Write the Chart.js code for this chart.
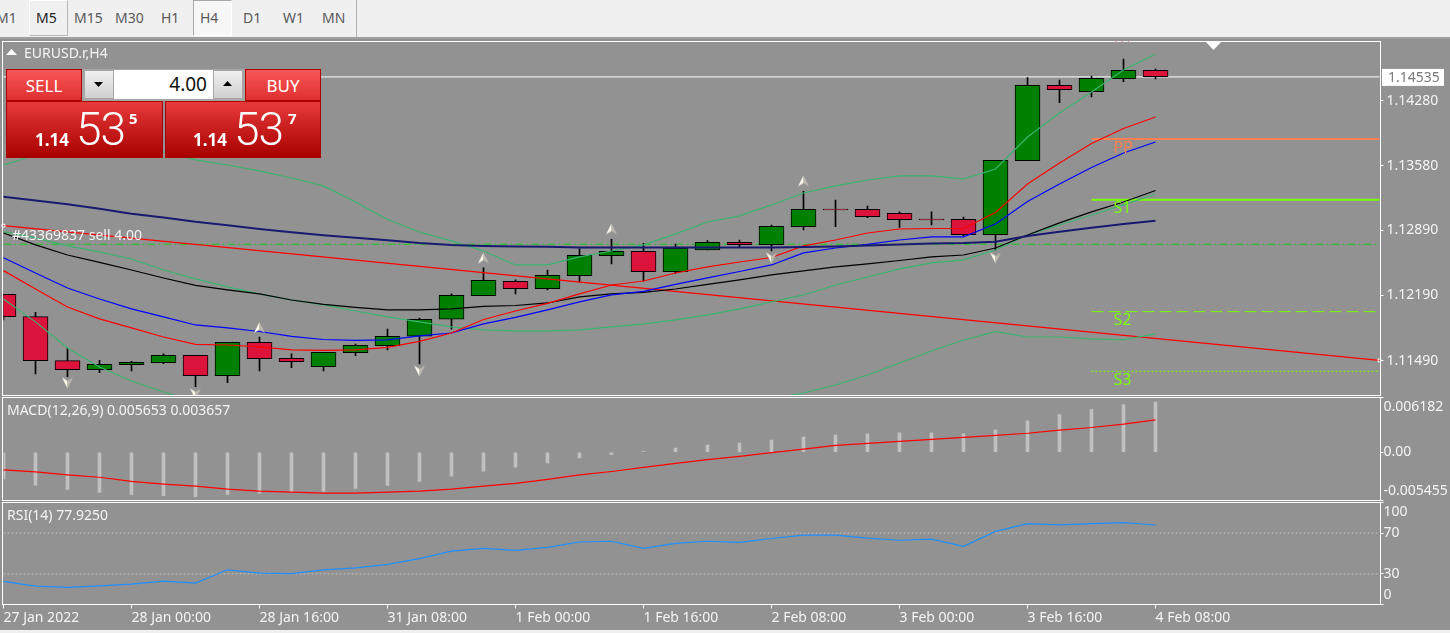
<!DOCTYPE html>
<html>
<head>
<meta charset="utf-8">
<title>EURUSD.r,H4</title>
<script src="https://cdn.jsdelivr.net/npm/chart.js@4"></script>
<style>
  html, body { margin: 0; padding: 0; background: #f0f0f0; overflow: hidden; }
  body { width: 1450px; height: 633px; position: relative; font-family: "Noto Sans", sans-serif; }
  canvas { position: absolute; left: 0; }
  .abs { position: absolute; white-space: nowrap; }
  #stage { position: absolute; left: 0; top: 39px; width: 1450px; height: 591px; background: #929292; }
  #sep { position: absolute; left: 0; top: 37px; width: 1450px; height: 2px; background: #a0a0a0; }
  .tf { position: absolute; top: 9px; font-size: 14px; color: #5a5a5a; line-height: 18px; }
  .tfbox { position: absolute; top: 0; width: 37px; height: 34px; border: 1px solid #c8c8c8; border-top-color: #fff; border-left-color: #fff; }
  .pane { color: #f4f4f4; font-size: 14px; line-height: 16px; }
  .tab { background: linear-gradient(#f85656, #e03030); border: 1px solid #a80000; color: #fff; text-align: center; font-size: 17px; box-sizing: border-box; }
  .px { background: linear-gradient(#e83a3a, #a80000); border: 1px solid #a80000; box-sizing: border-box; height: 57px; top: 101px; }
  .spin { background: linear-gradient(#f0f0f0, #d0d0d0); height: 27px; top: 71px; width: 28px; }
  .big { font-size: 46px; font-weight: 300; color: #fff; font-family: Roboto, sans-serif; letter-spacing: -1px; line-height: 46px; }
  .sm { font-size: 15px; font-weight: 700; color: #fff; line-height: 16px; }
</style>
</head>
<body>
<div class="tfbox" style="left:29px;border-color:#fff #b8b8b8 #b8b8b8 #fff"></div>
<div class="tfbox" style="left:193px;background:#f7f7f7;border-color:#aaa #fff #fff #aaa"></div>
<div class="tf" style="left:-4px">M1</div>
<div class="tf" style="left:36px;color:#222">M5</div>
<div class="tf" style="left:74px">M15</div>
<div class="tf" style="left:115px">M30</div>
<div class="tf" style="left:161px">H1</div>
<div class="tf" style="left:200px">H4</div>
<div class="tf" style="left:243px">D1</div>
<div class="tf" style="left:283px">W1</div>
<div class="tf" style="left:322px">MN</div>
<div class="abs" style="left:356px;top:0;width:1px;height:37px;background:#b4b4b4"></div>
<div id="sep"></div>
<div id="stage"></div>

<canvas id="mainChart" width="1450" height="360" style="top:39px"></canvas>
<canvas id="macdChart" width="1450" height="106" style="top:395px"></canvas>
<canvas id="rsiChart" width="1450" height="130" style="top:500px"></canvas>

<div class="abs" style="left:6px;top:49px;width:11px;height:6px;background:#fff;clip-path:polygon(50% 0,100% 100%,0 100%)"></div>
<div class="abs pane" style="left:24px;top:45px">EURUSD.r,H4</div>
<div class="abs pane" style="left:7px;top:402px">MACD(12,26,9) 0.005653 0.003657</div>
<div class="abs pane" style="left:7px;top:507px">RSI(14) 77.9250</div>
<div class="abs" style="left:1205px;top:41px;width:17px;height:9px;background:#fff;clip-path:polygon(0 0,100% 0,50% 100%)"></div>

<div class="abs tab" style="left:6px;top:69px;width:76px;height:32px;line-height:31px">SELL</div>
<div class="abs" style="left:10px;top:100px;width:68px;height:1px;background:#a80000"></div>
<div class="abs" style="left:82px;top:69px;width:163px;height:32px;background:#a6a6a6"></div>
<div class="abs spin" style="left:85px"></div>
<div class="abs" style="left:94px;top:82px;width:9px;height:5px;background:#000;clip-path:polygon(0 0,100% 0,50% 100%)"></div>
<div class="abs" style="left:114px;top:70px;width:99px;height:29px;background:#fff;color:#111;font-size:19px;line-height:29px;text-align:right;box-sizing:border-box;padding-right:6px">4.00</div>
<div class="abs spin" style="left:214px"></div>
<div class="abs" style="left:223px;top:81px;width:9px;height:5px;background:#000;clip-path:polygon(50% 0,100% 100%,0 100%)"></div>
<div class="abs tab" style="left:245px;top:69px;width:76px;height:32px;line-height:31px">BUY</div>
<div class="abs" style="left:249px;top:100px;width:68px;height:1px;background:#a80000"></div>

<div class="abs px" style="left:6px;width:157px"></div>
<div class="abs sm" style="left:35px;top:131px;font-size:17px;line-height:18px">1.14</div>
<div class="abs big" style="left:76px;top:106px">53</div>
<div class="abs sm" style="left:129px;top:110px">5</div>
<div class="abs px" style="left:165px;width:156px"></div>
<div class="abs sm" style="left:193px;top:131px;font-size:17px;line-height:18px">1.14</div>
<div class="abs big" style="left:234px;top:106px">53</div>
<div class="abs sm" style="left:288px;top:110px">7</div>

<script>
const barTimes = ['27 Jan 08:00','27 Jan 12:00','27 Jan 16:00','27 Jan 20:00','28 Jan 00:00','28 Jan 04:00','28 Jan 08:00','28 Jan 12:00','28 Jan 16:00','28 Jan 20:00',
    '31 Jan 00:00','31 Jan 04:00','31 Jan 08:00','31 Jan 12:00','31 Jan 16:00','31 Jan 20:00','1 Feb 00:00','1 Feb 04:00','1 Feb 08:00','1 Feb 12:00',
    '1 Feb 16:00','1 Feb 20:00','2 Feb 00:00','2 Feb 04:00','2 Feb 08:00','2 Feb 12:00','2 Feb 16:00','2 Feb 20:00','3 Feb 00:00','3 Feb 04:00',
    '3 Feb 08:00','3 Feb 12:00','3 Feb 16:00','3 Feb 20:00','4 Feb 00:00','4 Feb 04:00','4 Feb 08:00',
    '4 Feb 12:00','4 Feb 16:00','4 Feb 20:00','7 Feb 00:00','7 Feb 04:00','7 Feb 08:00','7 Feb 12:00'];
const timeTickIndex = [0,4,8,12,16,20,24,28,32,36];
const timeTickText = ['27 Jan 2022','28 Jan 00:00','28 Jan 16:00','31 Jan 08:00','1 Feb 00:00','1 Feb 16:00','2 Feb 08:00','3 Feb 00:00','3 Feb 16:00','4 Feb 08:00'];

const opens = [1.12202,1.11962,1.11490,1.11393,1.11447,1.11468,1.11548,1.11329,1.11687,1.11516,
    1.11426,1.11576,1.11651,1.11752,1.11934,1.12187,1.12342,1.12263,1.12402,1.12617,
    1.12664,1.12445,1.12678,1.12760,1.12735,1.12928,1.13117,1.13115,1.13072,1.13010,
    1.13007,1.12842,1.13636,1.14445,1.14377,1.14516,1.14606];
const closes = [1.11962,1.11490,1.11393,1.11451,1.11473,1.11548,1.11329,1.11687,1.11511,1.11479,
    1.11580,1.11655,1.11752,1.11934,1.12192,1.12353,1.12263,1.12406,1.12621,1.12664,
    1.12445,1.12699,1.12760,1.12735,1.12932,1.13115,1.13107,1.13035,1.13003,1.12999,
    1.12842,1.13640,1.14445,1.14398,1.14520,1.14606,1.14537];
const highs = [1.12202,1.12009,1.11623,1.11494,1.11484,1.11562,1.11548,1.11687,1.11744,1.11562,
    1.11580,1.11669,1.11830,1.11948,1.12206,1.12485,1.12356,1.12463,1.12689,1.12793,
    1.12750,1.12742,1.12778,1.12785,1.12946,1.13308,1.13214,1.13150,1.13086,1.13086,
    1.13032,1.13640,1.14527,1.14502,1.14545,1.14727,1.14620];
const lows = [1.11927,1.11347,1.11318,1.11361,1.11379,1.11458,1.11211,1.11254,1.11379,1.11415,
    1.11379,1.11544,1.11605,1.11455,1.11827,1.12187,1.12206,1.12249,1.12331,1.12528,
    1.12345,1.12428,1.12678,1.12707,1.12667,1.12892,1.12928,1.13025,1.12921,1.12946,
    1.12828,1.12678,1.13636,1.14258,1.14320,1.14484,1.14513];

const maNavy = [1.13249,1.13209,1.13168,1.13120,1.13067,1.13027,1.12981,1.12943,1.12903,1.12869,
    1.12837,1.12809,1.12782,1.12753,1.12732,1.12721,1.12715,1.12713,1.12705,1.12705,
    1.12705,1.12705,1.12705,1.12705,1.12705,1.12710,1.12715,1.12726,1.12737,1.12748,
    1.12753,1.12767,1.12828,1.12874,1.12917,1.12957,1.12992];
const bandUpper = [1.13590,1.13697,1.13751,1.13772,1.13772,1.13730,1.13644,1.13590,1.13526,1.13450,
    1.13365,1.13193,1.13005,1.12871,1.12775,1.12667,1.12517,1.12517,1.12603,1.12667,
    1.12732,1.12850,1.12978,1.13043,1.13161,1.13289,1.13365,1.13429,1.13472,1.13472,
    1.13440,1.13547,1.13890,1.14148,1.14373,1.14609,1.14781];
const bandMiddle = [1.12874,1.12807,1.12721,1.12657,1.12581,1.12463,1.12367,1.12281,1.12206,1.12141,
    1.12088,1.12023,1.11959,1.11906,1.11852,1.11820,1.11809,1.11809,1.11820,1.11852,
    1.11884,1.11927,1.11981,1.12045,1.12120,1.12195,1.12302,1.12388,1.12474,1.12539,
    1.12571,1.12678,1.12839,1.12946,1.13053,1.13161,1.13279];
const bandLower = [1.12152,1.11906,1.11626,1.11422,1.11272,1.11154,1.11047,1.10961,1.10907,1.10875,
    1.10843,1.10821,1.10800,1.10767,1.10746,1.10735,1.10725,1.10725,1.10746,1.10800,
    1.10832,1.10875,1.10939,1.11004,1.11079,1.11143,1.11229,1.11336,1.11465,1.11594,
    1.11712,1.11801,1.11744,1.11744,1.11723,1.11712,1.11777];
const maBlack = [1.12860,1.12732,1.12624,1.12544,1.12463,1.12377,1.12297,1.12249,1.12206,1.12141,
    1.12093,1.12061,1.12034,1.12034,1.12045,1.12072,1.12082,1.12109,1.12174,1.12206,
    1.12222,1.12259,1.12308,1.12356,1.12410,1.12453,1.12496,1.12528,1.12565,1.12603,
    1.12624,1.12699,1.12839,1.12968,1.13086,1.13193,1.13316];
const maBlue = [1.12595,1.12431,1.12270,1.12152,1.12045,1.11959,1.11873,1.11841,1.11803,1.11750,
    1.11717,1.11707,1.11712,1.11755,1.11787,1.11884,1.11954,1.12034,1.12120,1.12195,
    1.12233,1.12308,1.12378,1.12447,1.12517,1.12646,1.12699,1.12737,1.12785,1.12818,
    1.12818,1.12957,1.13198,1.13386,1.13563,1.13719,1.13837];
const maRed = [1.12456,1.12259,1.12066,1.11938,1.11841,1.11744,1.11664,1.11658,1.11637,1.11605,
    1.11600,1.11605,1.11632,1.11696,1.11787,1.11932,1.12023,1.12104,1.12206,1.12302,
    1.12345,1.12431,1.12496,1.12549,1.12597,1.12721,1.12785,1.12860,1.12903,1.12908,
    1.12908,1.13080,1.13386,1.13611,1.13820,1.13981,1.14105];

const trendStart = 1.12939;
const trendEnd = 1.11492;
const bidPrice = 1.14535;
const orderPrice = 1.12739;
const pivotFromIndex = 34;
const pivotNames = ['R1','PP','S1','S2','S3'];
const pivotPrices = [1.15052,1.13869,1.13218,1.12016,1.11376];
const pivotColors = ['#c0504d','#ff7f50','#7cfc00','#7cfc00','#7cfc00'];

const fractalUpIndex = [8,15,19,25];
const fractalUpPrice = [1.11846,1.12592,1.12903,1.13418];
const fractalDownIndex = [2,6,13,24,31];
const fractalDownPrice = [1.11251,1.11133,1.11379,1.12592,1.12592];

const priceTicks = [1.1428,1.1358,1.1289,1.1219,1.1149];

const macdHist = [-0.00302,-0.00371,-0.00421,-0.00455,-0.00478,-0.00490,-0.00501,-0.00478,-0.00463,-0.00448,
    -0.00444,-0.00409,-0.00375,-0.00329,-0.00272,-0.00214,-0.00168,-0.00122,-0.00065,-0.00027,
    0.00008,0.00046,0.00080,0.00103,0.00138,0.00172,0.00195,0.00207,0.00218,0.00218,
    0.00207,0.00253,0.00356,0.00425,0.00482,0.00539,0.005653];
const macdSignal = [-0.00199,-0.00222,-0.00256,-0.00283,-0.00329,-0.00360,-0.00383,-0.00417,-0.00440,-0.00451,
    -0.00463,-0.00463,-0.00451,-0.00440,-0.00417,-0.00383,-0.00352,-0.00306,-0.00256,-0.00218,
    -0.00172,-0.00126,-0.00084,-0.00046,-0.00004,0.00034,0.00077,0.00099,0.00122,0.00145,
    0.00168,0.00191,0.00214,0.00249,0.00279,0.00318,0.003657];
const macdMax = 0.006182;
const macdMin = -0.005455;

const rsiValues = [22.7,18,16.7,18.3,20,23,21,34,30.7,30.3,
    34,36,39.3,45,52.3,55,53,56,61.3,62,
    55,60,62,61,64.7,68,68,65,63,64,
    57,71.7,79.3,78,79.3,80.3,77.925];
const rsiLevels = [70,30];
const rsiTicks = [100,70,30,0];

const fontName = '"Noto Sans", sans-serif';
const axisFont = { family: fontName, size: 14, lineHeight: 1.3 };

function flat(v) { return barTimes.map(() => v); }
function fromIndex(start, v) { return barTimes.map((_, i) => i >= start ? v : null); }
function pick(idx, vals) {
    return barTimes.map((_, i) => { const k = idx.indexOf(i); return k < 0 ? null : vals[k]; });
}
function line(data, color, width, order, extra) {
    return Object.assign({ type: 'line', data: data, borderColor: color, borderWidth: width, pointRadius: 0, tension: 0, order: order }, extra || {});
}

// fractal arrow, left half pale and right half shaded
function arrowImage(up) {
    const c = document.createElement('canvas');
    c.width = 13; c.height = 13;
    const g = c.getContext('2d');
    if (!up) { g.translate(0, 13); g.scale(1, -1); }
    g.fillStyle = '#fdf9ea';
    g.beginPath(); g.moveTo(6.5, 1); g.lineTo(6.5, 8.5); g.lineTo(1, 12); g.closePath(); g.fill();
    g.fillStyle = '#bdb9b0';
    g.beginPath(); g.moveTo(6.5, 1); g.lineTo(12, 12); g.lineTo(6.5, 8.5); g.closePath(); g.fill();
    return c;
}

// white frame round the plot area
const framePlugin = {
    id: 'frame',
    afterDraw(chart) {
        const a = chart.chartArea, c = chart.ctx;
        c.save();
        c.strokeStyle = '#fff';
        c.lineWidth = 1;
        c.strokeRect(a.left - 1, a.top, a.right - a.left + 2, a.bottom - a.top);
        c.restore();
    }
};

// pivot names, order label and the bid price box
const mainTextPlugin = {
    id: 'mainText',
    afterDraw(chart) {
        const a = chart.chartArea, c = chart.ctx, y = chart.scales.y, x = chart.scales.x;
        c.save();
        c.beginPath();
        c.rect(a.left, a.top, a.right - a.left, a.bottom - a.top);
        c.clip();
        c.font = '16px ' + fontName;
        c.textBaseline = 'top';
        pivotNames.forEach((n, i) => {
            c.fillStyle = pivotColors[i];
            c.fillText(n, x.getPixelForValue(36) - 42, y.getPixelForValue(pivotPrices[i]) + 1);
        });
        c.font = '14px ' + fontName;
        c.fillStyle = '#f4f4f4';
        c.textBaseline = 'middle';
        c.fillText('#43369837 sell 4.00', 12, y.getPixelForValue(orderPrice) - 8);
        c.restore();

        const by = y.getPixelForValue(bidPrice);
        c.fillStyle = '#fff';
        c.fillRect(1382, by - 8, 62, 17);
        c.fillStyle = '#7a7a7a';
        c.font = '14px ' + fontName;
        c.textBaseline = 'middle';
        c.fillText(bidPrice.toFixed(5), 1388, by + 1);
    }
};

function baseOptions(top, bottom) {
    return {
        responsive: false,
        animation: false,
        devicePixelRatio: 1,
        layout: { autoPadding: false, padding: { left: 3.5, top: top, right: 0, bottom: bottom } },
        plugins: { legend: { display: false }, tooltip: { enabled: false } },
        events: []
    };
}
function hiddenX() {
    return { type: 'category', display: false, offset: false, grid: { display: false } };
}
function noMargins(s) {
    s.paddingTop = 0; s.paddingBottom = 0; s.paddingLeft = 0; s.paddingRight = 0;
}
function rightAxis(opts) {
    return Object.assign({
        position: 'right',
        afterFit: s => { s.width = 70.5; noMargins(s); },
        grid: { drawOnChartArea: false, drawTicks: true, tickLength: 4, color: '#fff' },
        border: { display: false },
    }, opts);
}

new Chart(document.getElementById('mainChart'), {
    type: 'bar',
    plugins: [framePlugin, mainTextPlugin],
    data: {
        labels: barTimes,
        datasets: [
            line(pick(fractalUpIndex, fractalUpPrice), 'transparent', 0, 0, { showLine: false, pointRadius: 6, pointStyle: arrowImage(true) }),
            line(pick(fractalDownIndex, fractalDownPrice), 'transparent', 0, 0, { showLine: false, pointRadius: 6, pointStyle: arrowImage(false) }),
            line(maNavy, '#191970', 2, 1),
            line(maRed, '#ff0000', 1.2, 2),
            line(maBlue, '#0000ff', 1.2, 2),
            line(maBlack, '#000000', 1.2, 2),
            line(bandUpper, '#3cb371', 1.2, 2),
            line(bandMiddle, '#3cb371', 1.2, 2),
            line(bandLower, '#3cb371', 1.2, 2),
            line(fromIndex(pivotFromIndex, pivotPrices[1]), pivotColors[1], 2, 3),
            line(fromIndex(pivotFromIndex, pivotPrices[2]), pivotColors[2], 2, 3),
            line(fromIndex(pivotFromIndex, pivotPrices[3]), pivotColors[3], 1, 3, { borderDash: [12, 5] }),
            line(fromIndex(pivotFromIndex, pivotPrices[4]), pivotColors[4], 1, 3, { borderDash: [2, 2] }),
            line(barTimes.map((_, i) => i === 0 ? trendStart : i === barTimes.length - 1 ? trendEnd : null), '#ff0000', 1.2, 3, {
                spanGaps: true, clip: 4, pointStyle: 'rect', pointRadius: 2, pointBorderColor: '#fff', pointBackgroundColor: 'transparent', pointBorderWidth: 1
            }),
            {
                type: 'bar', data: opens.map((o, i) => [o, closes[i]]), barThickness: 25, grouped: false, order: 5,
                backgroundColor: c => closes[c.dataIndex] >= opens[c.dataIndex] ? '#008000' : '#dc143c',
                borderColor: '#000', borderWidth: 1, borderSkipped: false
            },
            {
                type: 'bar', data: lows.map((l, i) => [l, highs[i]]), barThickness: 1, grouped: false, order: 6,
                backgroundColor: '#000'
            },
            line(flat(bidPrice), '#ffffff', 1, 7),
            line(flat(orderPrice), '#1ec81e', 1, 7, { borderDash: [8, 3, 2, 3] })
        ]
    },
    options: Object.assign(baseOptions(2.5, 3.5), {
        scales: {
            x: hiddenX(),
            y: rightAxis({
                min: 1.11116, max: 1.14915,
                afterBuildTicks: s => { s.ticks = priceTicks.map(v => ({ value: v })); },
                ticks: { color: '#f4f4f4', font: axisFont, padding: 3, autoSkip: false, callback: v => v.toFixed(5) }
            })
        }
    })
});

new Chart(document.getElementById('macdChart'), {
    type: 'bar',
    plugins: [framePlugin],
    data: {
        labels: barTimes,
        datasets: [
            line(macdSignal, '#ff0000', 1.2, 0),
            { type: 'bar', data: macdHist, backgroundColor: '#c0c0c0', barThickness: 3, order: 1 }
        ]
    },
    options: Object.assign(baseOptions(2.5, 0.5), {
        scales: {
            x: hiddenX(),
            y: rightAxis({
                min: macdMin, max: macdMax,
                afterBuildTicks: s => { s.ticks = [macdMax, 0, macdMin].map(v => ({ value: v })); },
                ticks: {
                    color: '#f4f4f4', font: axisFont, padding: 0, autoSkip: false,
                    callback: v => v === macdMax ? ['', v.toFixed(6)] : v === macdMin ? [v.toFixed(6), ''] : v.toFixed(2)
                }
            })
        }
    })
});

new Chart(document.getElementById('rsiChart'), {
    type: 'line',
    plugins: [framePlugin],
    data: {
        labels: barTimes,
        datasets: [
            line(rsiValues, '#1e90ff', 1.2, 0),
            line(flat(rsiLevels[0]), '#c0c0c0', 1, 1, { borderDash: [2, 2] }),
            line(flat(rsiLevels[1]), '#c0c0c0', 1, 1, { borderDash: [2, 2] })
        ]
    },
    options: Object.assign(baseOptions(2.5, 0), {
        scales: {
            x: {
                type: 'category', offset: false,
                afterFit: s => { s.height = 25.5; noMargins(s); },
                afterBuildTicks: s => { s.ticks = timeTickIndex.map(v => ({ value: v })); },
                grid: { drawOnChartArea: false, drawTicks: true, tickLength: 4, color: '#fff' },
                border: { display: false },
                ticks: {
                    color: '#f4f4f4', font: axisFont, align: 'start', padding: 0, autoSkip: false, maxRotation: 0,
                    callback: (v, i) => timeTickText[i]
                }
            },
            y: rightAxis({
                min: 0, max: 100,
                afterBuildTicks: s => { s.ticks = rsiTicks.map(v => ({ value: v })); },
                ticks: {
                    color: '#f4f4f4', font: axisFont, padding: 0, autoSkip: false,
                    callback: v => v === 100 ? ['', '100'] : v === 0 ? ['0', ''] : String(v)
                }
            })
        }
    })
});
</script>
</body>
</html>
